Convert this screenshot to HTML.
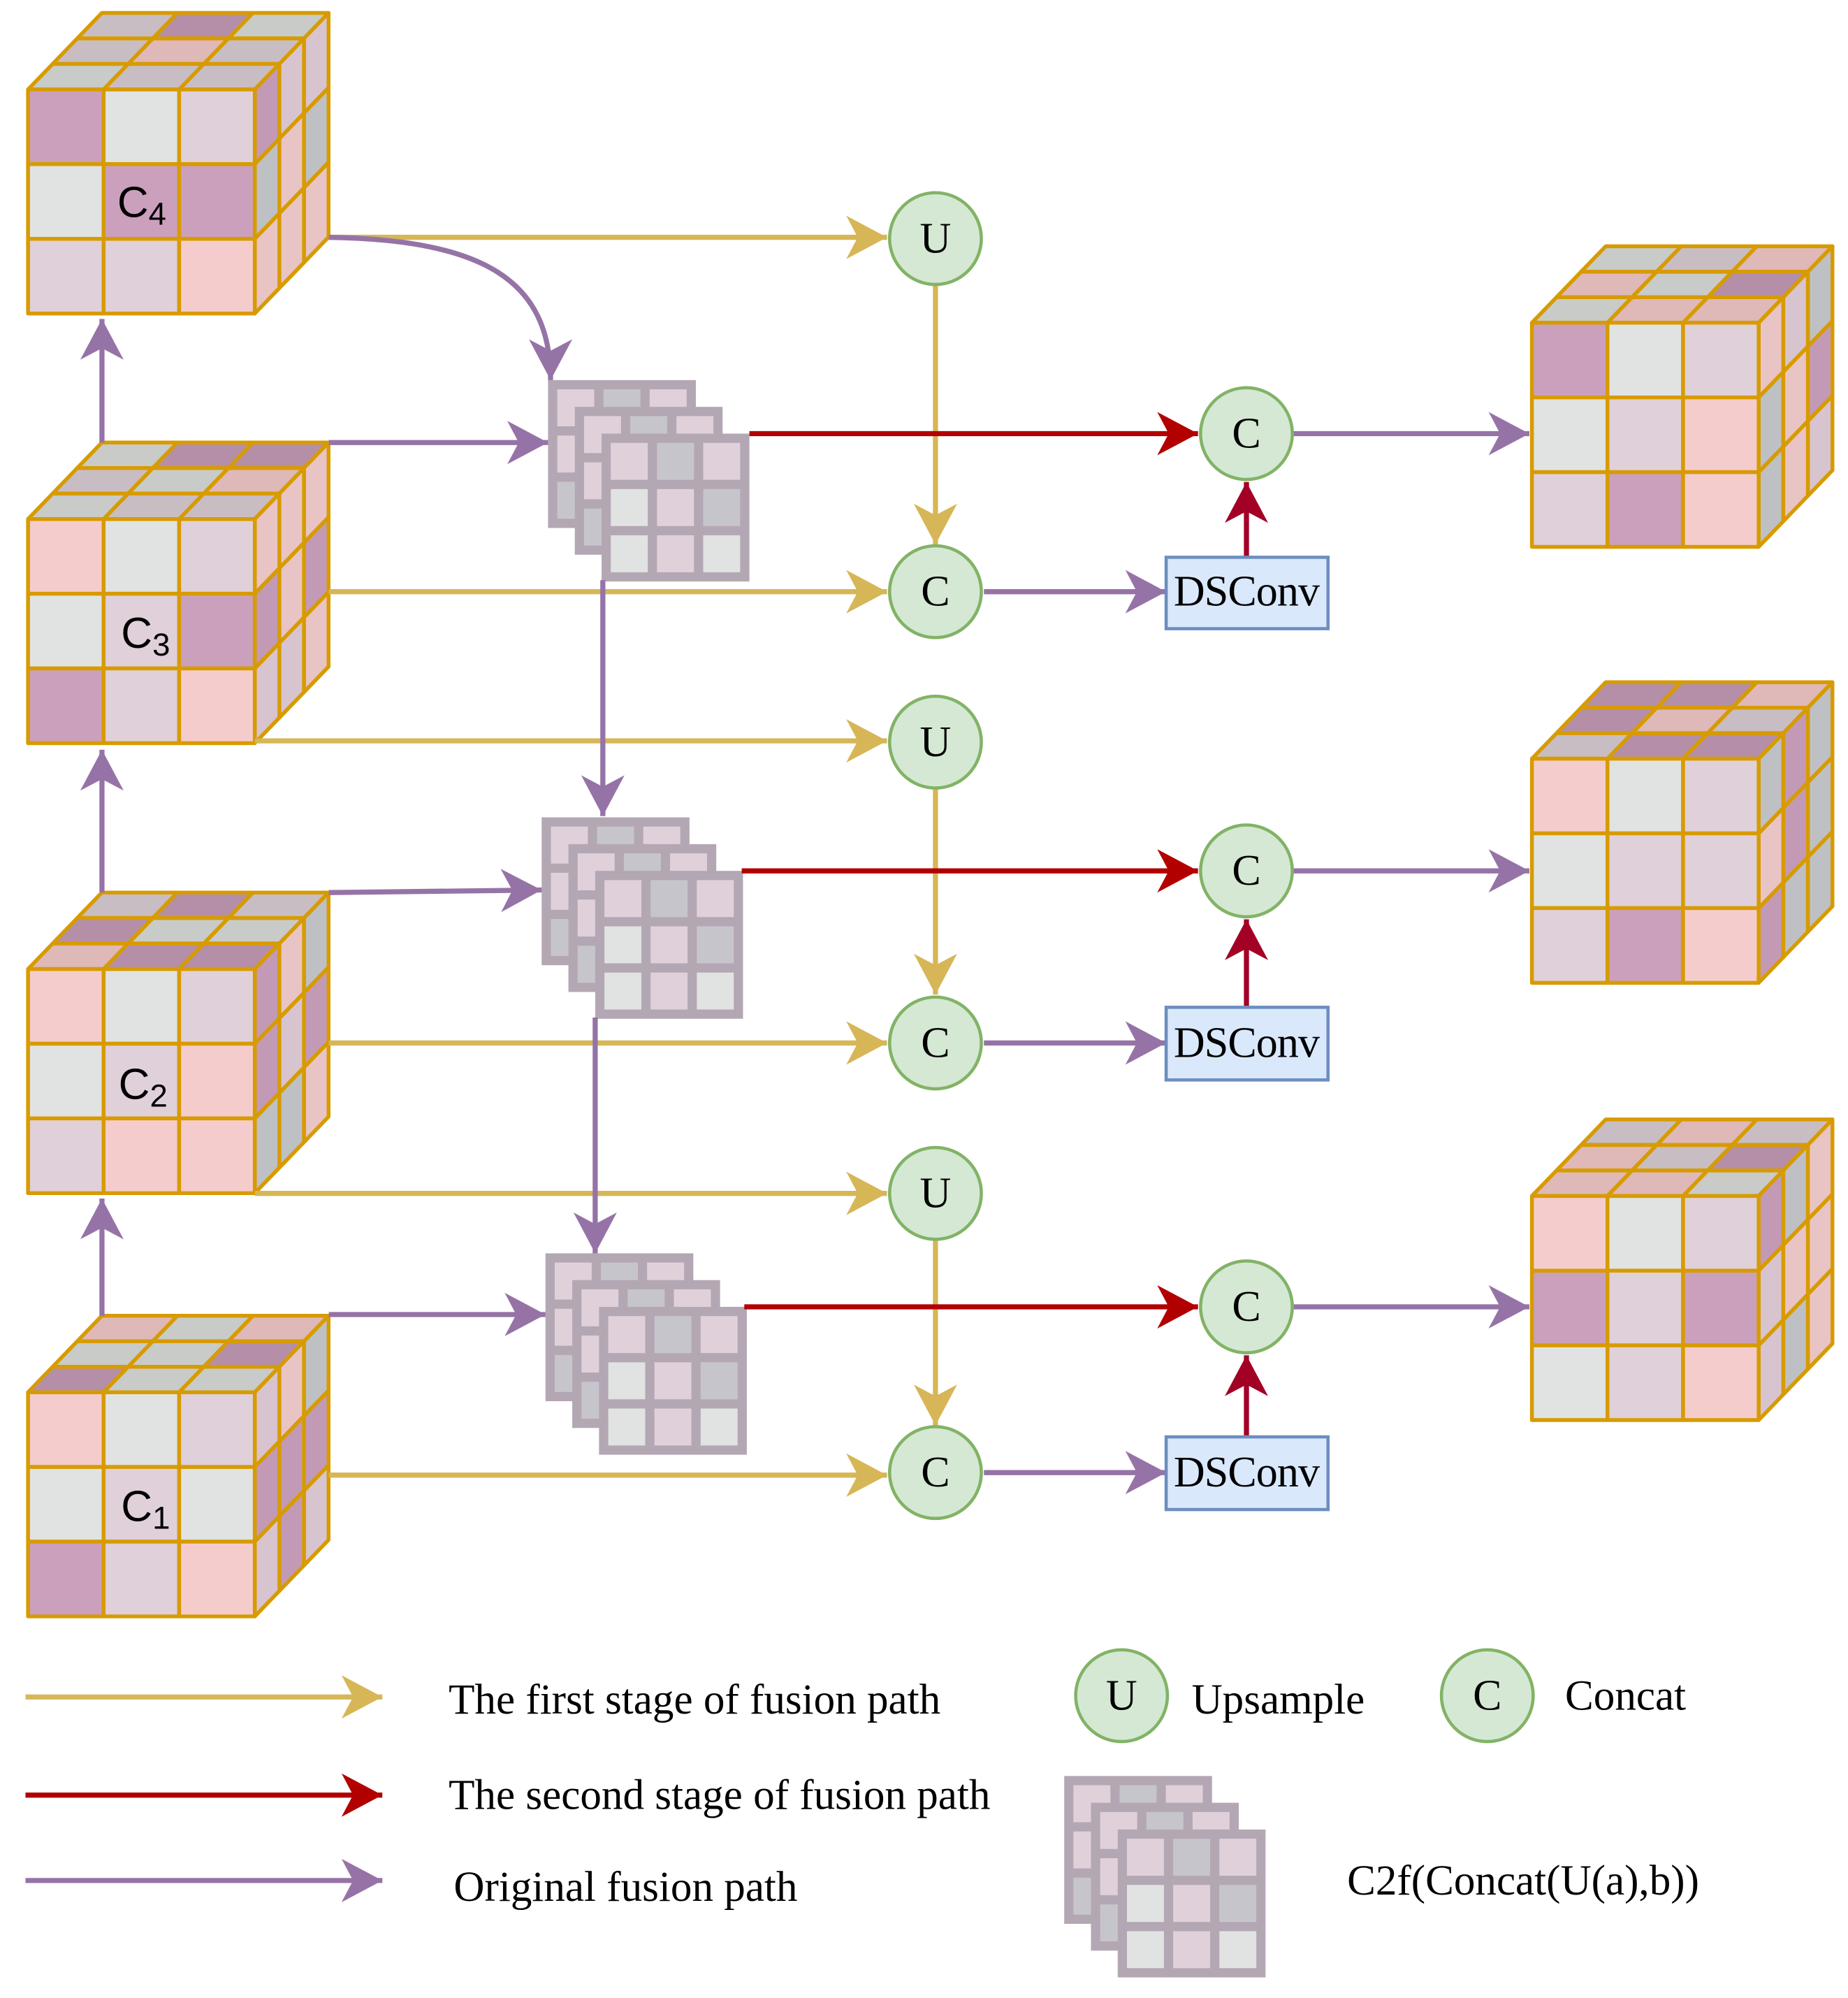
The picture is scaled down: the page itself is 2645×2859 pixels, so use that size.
<!DOCTYPE html>
<html><head><meta charset="utf-8"><style>html,body{margin:0;padding:0;background:#fff}svg{display:block}</style></head>
<body>
<svg id="s" width="2645" height="2859" viewBox="0 0 1450 1567" xmlns="http://www.w3.org/2000/svg">
<defs>
<marker id="mg" markerUnits="userSpaceOnUse" markerWidth="40" markerHeight="40" refX="32" refY="17" orient="auto"><path d="M0,0 L32,17 L0,34 L9,17 Z" fill="#d6b656"/></marker>
<marker id="mp" markerUnits="userSpaceOnUse" markerWidth="40" markerHeight="40" refX="32" refY="17" orient="auto"><path d="M0,0 L32,17 L0,34 L9,17 Z" fill="#9673a6"/></marker>
<marker id="mr" markerUnits="userSpaceOnUse" markerWidth="40" markerHeight="40" refX="32" refY="17" orient="auto"><path d="M0,0 L32,17 L0,34 L9,17 Z" fill="#b20000"/></marker>
<marker id="md" markerUnits="userSpaceOnUse" markerWidth="40" markerHeight="40" refX="32" refY="17" orient="auto"><path d="M0,0 L32,17 L0,34 L9,17 Z" fill="#a20025"/></marker>
</defs>
<g id="shapes"></g>
<g fill="none" stroke-width="4">
<g stroke="#d6b656" marker-end="url(#mg)">
<path d="M258,186 H696"/><path d="M734,223 V427"/><path d="M258,464 H696"/><path d="M200,581 H696"/>
<path d="M734,619 V780"/><path d="M258,818 H696"/><path d="M200,936 H696"/><path d="M734,973 V1118"/>
<path d="M258,1157 H696"/><path d="M20,1331 H300"/>
</g>
<g stroke="#9673a6" marker-end="url(#mp)">
<path d="M258,186 C380,188 432,220 432,298"/>
<path d="M80,347 V250"/><path d="M80,700 V588"/><path d="M80,1032 V940"/>
<path d="M258,347 H430"/><path d="M258,700 L425,698"/><path d="M258,1031 H428"/>
<path d="M473,455 V640"/><path d="M467,798 V983"/>
<path d="M772,464 H915"/><path d="M772,818 H915"/><path d="M772,1155 H915"/>
<path d="M1015,340 H1200"/><path d="M1015,683 H1200"/><path d="M1015,1025 H1200"/>
<path d="M20,1475 H300"/>
</g>
<g stroke="#b20000" marker-end="url(#mr)">
<path d="M588,340 H940"/><path d="M582,683 H940"/><path d="M584,1025 H940"/><path d="M20,1408 H300"/>
</g>
<g stroke="#a20025" marker-end="url(#md)">
<path d="M978,437 V378"/><path d="M978,790 V721"/><path d="M978,1127 V1063"/>
</g>
</g>
<g stroke="#82b366" stroke-width="2.5" fill="#d5e8d4">
<circle cx="734" cy="187" r="36"/><circle cx="734" cy="464" r="36"/><circle cx="734" cy="582" r="36"/>
<circle cx="734" cy="818" r="36"/><circle cx="734" cy="936" r="36"/><circle cx="734" cy="1155" r="36"/>
<circle cx="978" cy="340" r="36"/><circle cx="978" cy="683" r="36"/><circle cx="978" cy="1025" r="36"/>
<circle cx="880" cy="1330" r="36"/><circle cx="1167" cy="1330" r="36"/>
</g>
<g stroke="#6c8ebf" stroke-width="2.5" fill="#dae8fc">
<rect x="915" y="437" width="127" height="56"/><rect x="915" y="790" width="127" height="57"/><rect x="915" y="1127" width="127" height="57"/>
</g>
<g font-family="Liberation Serif, serif" font-size="34" fill="#000" text-anchor="middle">
<text x="734" y="198">U</text><text x="734" y="475">C</text><text x="734" y="593">U</text>
<text x="734" y="829">C</text><text x="734" y="947">U</text><text x="734" y="1166">C</text>
<text x="978" y="351">C</text><text x="978" y="694">C</text><text x="978" y="1036">C</text>
<text x="880" y="1341">U</text><text x="1167" y="1341">C</text>
</g>
<g font-family="Liberation Serif, serif" font-size="34" fill="#000" text-anchor="middle" letter-spacing="-0.5">
<text x="978" y="475">DSConv</text><text x="978" y="829">DSConv</text><text x="978" y="1166">DSConv</text>
</g>
<g font-family="Liberation Serif, serif" font-size="33.5" fill="#000">
<text x="352" y="1344">The first stage of fusion path</text>
<text x="352" y="1419">The second stage of fusion path</text>
<text x="356" y="1491">Original fusion path</text>
<text x="935" y="1344">Upsample</text>
<text x="1228" y="1341">Concat</text>
<text x="1057" y="1486">C2f(Concat(U(a),b))</text>
</g>
<g font-family="Liberation Sans, sans-serif" font-size="34" fill="#000">
<text x="92" y="170">C<tspan font-size="25" dy="6">4</tspan></text>
<text x="95" y="508">C<tspan font-size="25" dy="6">3</tspan></text>
<text x="93" y="862">C<tspan font-size="25" dy="6">2</tspan></text>
<text x="95" y="1193">C<tspan font-size="25" dy="6">1</tspan></text>
</g>
</svg>
<script>
(function(){
var g=document.getElementById('shapes'),NS='http://www.w3.org/2000/svg';
function poly(pts,fill,stroke,sw){var p=document.createElementNS(NS,'polygon');p.setAttribute('points',pts.map(function(a){return a[0].toFixed(1)+','+a[1].toFixed(1)}).join(' '));p.setAttribute('fill',fill);if(stroke){p.setAttribute('stroke',stroke);p.setAttribute('stroke-width',sw);p.setAttribute('stroke-linejoin','round');}g.appendChild(p);}
function rect(x,y,w,h,fill){var r=document.createElementNS(NS,'rect');r.setAttribute('x',x);r.setAttribute('y',y);r.setAttribute('width',w);r.setAttribute('height',h);r.setAttribute('fill',fill);g.appendChild(r);}
var F=['#cba0bc','#e0e3e1','#e0d0da','#f5cccc'],T=['#b58fa8','#c9bdc4','#dfb8b8','#c8cbc8'],R=['#c39ab6','#d8c4ce','#e9c4c4','#bec0c4'];
var seed=3;function rnd(){seed=(seed*9301+49297)%233280;return seed/233280;}
function pick(a){return a[Math.floor(rnd()*a.length)];}
var B='#d79b00';
function cube(x,y,front){var s=59.3,h=58.6,dx=19.3,dy=-20;
 for(var k=2;k>=0;k--)for(var j=0;j<3;j++){var x0=x+j*s+k*dx,y0=y+k*dy;poly([[x0,y0],[x0+s,y0],[x0+s+dx,y0+dy],[x0+dx,y0+dy]],pick(T),B,3);}
 for(var k=2;k>=0;k--)for(var i=0;i<3;i++){var x0=x+3*s+k*dx,y0=y+i*h+k*dy;poly([[x0,y0],[x0+dx,y0+dy],[x0+dx,y0+dy+h],[x0,y0+h]],pick(R),B,3);}
 for(var i=0;i<3;i++)for(var j=0;j<3;j++){var c=front?front[i*3+j]:pick(F);poly([[x+j*s,y+i*h],[x+(j+1)*s,y+i*h],[x+(j+1)*s,y+(i+1)*h],[x+j*s,y+(i+1)*h]],F[c]||c,B,3);}
}
cube(22,70,[0,1,2,1,0,0,2,2,3]);
cube(22,407,[3,1,2,1,2,0,0,2,3]);
cube(22,760,[3,1,2,1,2,3,2,3,3]);
cube(22,1092,[3,1,2,1,2,1,0,2,3]);
cube(1202,253,[0,1,2,1,2,3,2,0,3]);
cube(1202,595,[3,1,2,1,2,2,2,0,3]);
cube(1202,938,[3,1,2,0,2,0,1,2,3]);
var SB='#b4a7b4',SC=['#e0d0da','#c6c5cc','#e0e3e1'];
function sq(x,y,cells){rect(x,y,116,116,SB);var c=29,gap=(116-3*c)/4;for(var i=0;i<3;i++)for(var j=0;j<3;j++)rect(x+gap+j*(c+gap),y+gap+i*(c+gap),c,c,SC[cells[i*3+j]]);}
function stack(x,y){sq(x,y,[0,1,0,0,1,2,1,0,2]);sq(x+21,y+21,[0,1,0,0,2,1,1,0,2]);sq(x+42,y+42,[0,1,0,2,0,1,2,0,2]);}
stack(430,298);stack(425,641);stack(428,983);stack(835,1393);
})();
</script>
</body></html>
